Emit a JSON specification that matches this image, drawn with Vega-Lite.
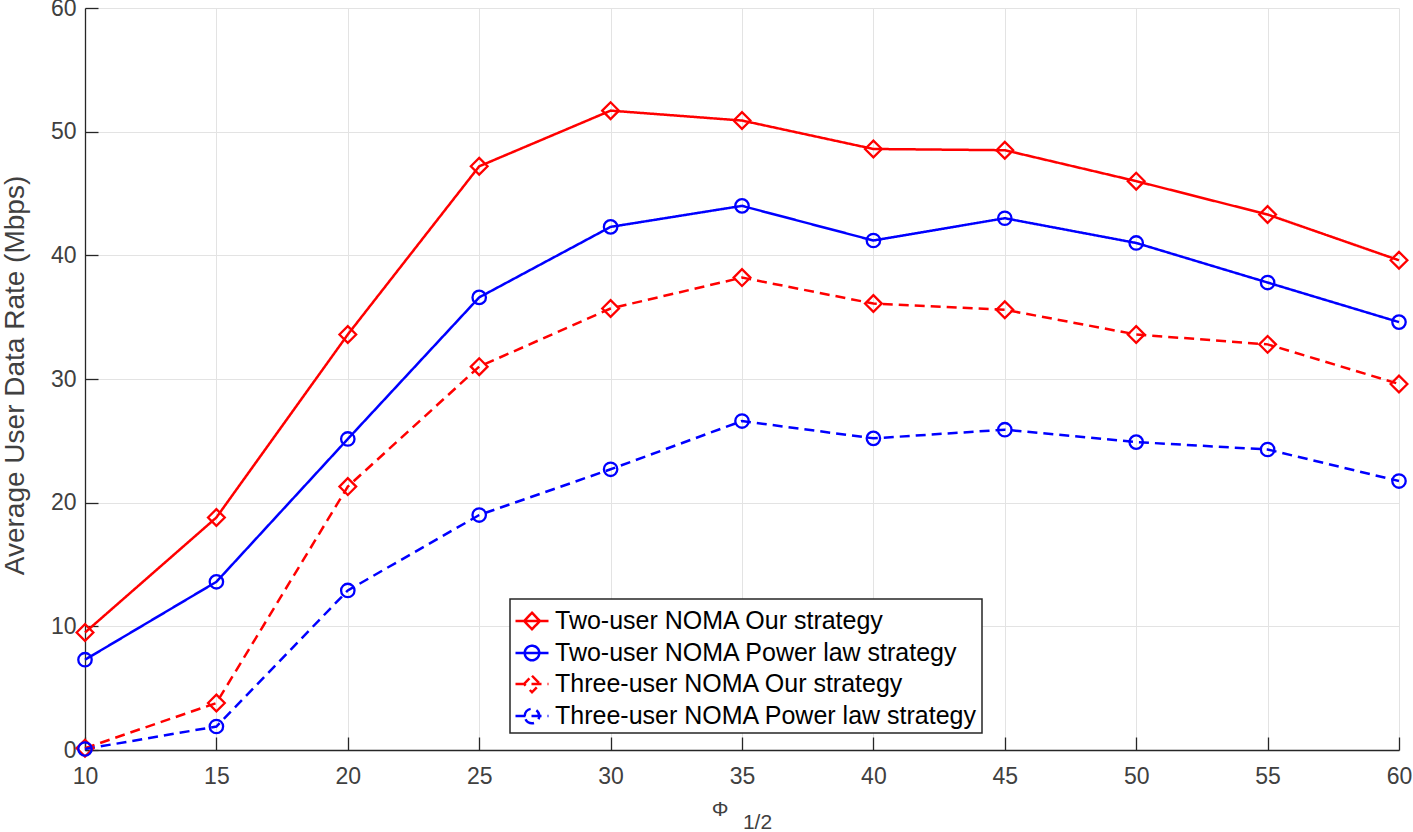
{
  "$schema": "https://vega.github.io/schema/vega-lite/v6.json",
  "width": 1314,
  "height": 742,
  "autosize": {"type": "none"},
  "padding": {"left": 85, "top": 8, "right": 14, "bottom": 82},
  "background": "white",
  "config": {
    "view": {"stroke": null},
    "font": "Liberation Sans",
    "axis": {
      "domainColor": "#262626",
      "domainWidth": 1.3,
      "tickColor": "#262626",
      "tickWidth": 1.3,
      "tickSize": -13,
      "gridColor": "#e3e3e3",
      "gridWidth": 1,
      "labelFont": "Liberation Sans",
      "labelFontSize": 23,
      "labelColor": "#404040",
      "labelOverlap": false,
      "labelFlush": false,
      "titleFont": "Liberation Sans",
      "titleFontWeight": "normal",
      "titleColor": "#404040"
    }
  },
  "data": {
    "values": [
      {"x": 10, "v": 9.5, "s": "Two-user NOMA Our strategy"},
      {"x": 15, "v": 18.8, "s": "Two-user NOMA Our strategy"},
      {"x": 20, "v": 33.6, "s": "Two-user NOMA Our strategy"},
      {"x": 25, "v": 47.2, "s": "Two-user NOMA Our strategy"},
      {"x": 30, "v": 51.7, "s": "Two-user NOMA Our strategy"},
      {"x": 35, "v": 50.9, "s": "Two-user NOMA Our strategy"},
      {"x": 40, "v": 48.6, "s": "Two-user NOMA Our strategy"},
      {"x": 45, "v": 48.5, "s": "Two-user NOMA Our strategy"},
      {"x": 50, "v": 46.0, "s": "Two-user NOMA Our strategy"},
      {"x": 55, "v": 43.3, "s": "Two-user NOMA Our strategy"},
      {"x": 60, "v": 39.6, "s": "Two-user NOMA Our strategy"},
      {"x": 10, "v": 7.3, "s": "Two-user NOMA Power law strategy"},
      {"x": 15, "v": 13.6, "s": "Two-user NOMA Power law strategy"},
      {"x": 20, "v": 25.15, "s": "Two-user NOMA Power law strategy"},
      {"x": 25, "v": 36.6, "s": "Two-user NOMA Power law strategy"},
      {"x": 30, "v": 42.3, "s": "Two-user NOMA Power law strategy"},
      {"x": 35, "v": 44.0, "s": "Two-user NOMA Power law strategy"},
      {"x": 40, "v": 41.2, "s": "Two-user NOMA Power law strategy"},
      {"x": 45, "v": 43.0, "s": "Two-user NOMA Power law strategy"},
      {"x": 50, "v": 41.0, "s": "Two-user NOMA Power law strategy"},
      {"x": 55, "v": 37.8, "s": "Two-user NOMA Power law strategy"},
      {"x": 60, "v": 34.6, "s": "Two-user NOMA Power law strategy"},
      {"x": 10, "v": 0.15, "s": "Three-user NOMA Our strategy"},
      {"x": 15, "v": 3.8, "s": "Three-user NOMA Our strategy"},
      {"x": 20, "v": 21.3, "s": "Three-user NOMA Our strategy"},
      {"x": 25, "v": 31.0, "s": "Three-user NOMA Our strategy"},
      {"x": 30, "v": 35.7, "s": "Three-user NOMA Our strategy"},
      {"x": 35, "v": 38.2, "s": "Three-user NOMA Our strategy"},
      {"x": 40, "v": 36.1, "s": "Three-user NOMA Our strategy"},
      {"x": 45, "v": 35.6, "s": "Three-user NOMA Our strategy"},
      {"x": 50, "v": 33.6, "s": "Three-user NOMA Our strategy"},
      {"x": 55, "v": 32.8, "s": "Three-user NOMA Our strategy"},
      {"x": 60, "v": 29.6, "s": "Three-user NOMA Our strategy"},
      {"x": 10, "v": 0.08, "s": "Three-user NOMA Power law strategy"},
      {"x": 15, "v": 1.9, "s": "Three-user NOMA Power law strategy"},
      {"x": 20, "v": 12.9, "s": "Three-user NOMA Power law strategy"},
      {"x": 25, "v": 19.0, "s": "Three-user NOMA Power law strategy"},
      {"x": 30, "v": 22.7, "s": "Three-user NOMA Power law strategy"},
      {"x": 35, "v": 26.6, "s": "Three-user NOMA Power law strategy"},
      {"x": 40, "v": 25.2, "s": "Three-user NOMA Power law strategy"},
      {"x": 45, "v": 25.9, "s": "Three-user NOMA Power law strategy"},
      {"x": 50, "v": 24.9, "s": "Three-user NOMA Power law strategy"},
      {"x": 55, "v": 24.3, "s": "Three-user NOMA Power law strategy"},
      {"x": 60, "v": 21.75, "s": "Three-user NOMA Power law strategy"}
    ]
  },
  "encoding": {
    "x": {
      "field": "x",
      "type": "quantitative",
      "scale": {"domain": [10, 60], "nice": false, "zero": false},
      "axis": {
        "values": [10, 15, 20, 25, 30, 35, 40, 45, 50, 55, 60],
        "labelPadding": 28,
        "title": ["Φ\u2800\u2800\u2800", "\u2800\u28001/2"],
        "titleFontSize": 21,
        "titleLineHeight": 13,
        "titleBaseline": "top",
        "titleY": 48
      }
    },
    "y": {
      "field": "v",
      "type": "quantitative",
      "scale": {"domain": [0, 60], "nice": false},
      "axis": {
        "values": [0, 10, 20, 30, 40, 50, 60],
        "labelPadding": 22,
        "title": "Average User Data Rate (Mbps)",
        "titleFontSize": 28,
        "titleX": -70,
        "titleY": 367,
        "titleBaseline": "middle"
      }
    },
    "color": {
      "field": "s",
      "type": "nominal",
      "scale": {
        "domain": ["Two-user NOMA Our strategy", "Two-user NOMA Power law strategy", "Three-user NOMA Our strategy", "Three-user NOMA Power law strategy"],
        "range": ["#ff0000", "#0000ff", "#ff0000", "#0000ff"]
      },
      "legend": null
    }
  },
  "layer": [
    {
      "mark": {"type": "line", "strokeWidth": 2.5},
      "encoding": {
        "color": {
          "field": "s",
          "type": "nominal",
          "legend": {
            "title": null,
            "orient": "none",
            "legendX": 425,
            "legendY": 591,
            "padding": 4,
            "fillColor": "white",
            "strokeColor": "#262626",
            "labelFont": "Liberation Sans",
            "labelFontSize": 25,
            "labelColor": "#000000",
            "labelLimit": 600,
            "labelOffset": 5,
            "rowPadding": 0,
            "symbolSize": 1089,
            "symbolStrokeWidth": 2.5,
            "encode": {
              "legend": {"update": {"strokeWidth": {"value": 1.5}}},
              "symbols": {
                "update": {
                  "shape": {"signal": "indexof(datum.value, 'Power') >= 0 ? 'M-1,0H1M-0.44,0A0.44,0.44,0,1,1,0.44,0A0.44,0.44,0,1,1,-0.44,0Z' : 'M-1,0H1M0,-0.5L0.48,0L0,0.5L-0.48,0Z'"},
                  "fill": {"value": "transparent"},
                  "strokeWidth": {"value": 2.5}
                }
              }
            }
          }
        },
        "strokeDash": {
          "field": "s",
          "type": "nominal",
          "scale": {
            "domain": ["Two-user NOMA Our strategy", "Two-user NOMA Power law strategy", "Three-user NOMA Our strategy", "Three-user NOMA Power law strategy"],
            "range": [[1, 0], [1, 0], [10, 6], [10, 6]]
          },
          "legend": null
        },
        "detail": {"field": "s"}
      }
    },
    {
      "transform": [{"filter": "indexof(datum.s, 'Power') < 0"}],
      "mark": {"type": "point", "shape": "diamond", "filled": false, "size": 280, "strokeWidth": 2.3, "opacity": 1},
      "encoding": {
        "color": {"field": "s", "type": "nominal", "legend": null}
      }
    },
    {
      "transform": [{"filter": "indexof(datum.s, 'Power') >= 0"}],
      "mark": {"type": "point", "shape": "circle", "filled": false, "size": 180, "strokeWidth": 2.3, "opacity": 1},
      "encoding": {
        "color": {"field": "s", "type": "nominal", "legend": null}
      }
    }
  ]
}
